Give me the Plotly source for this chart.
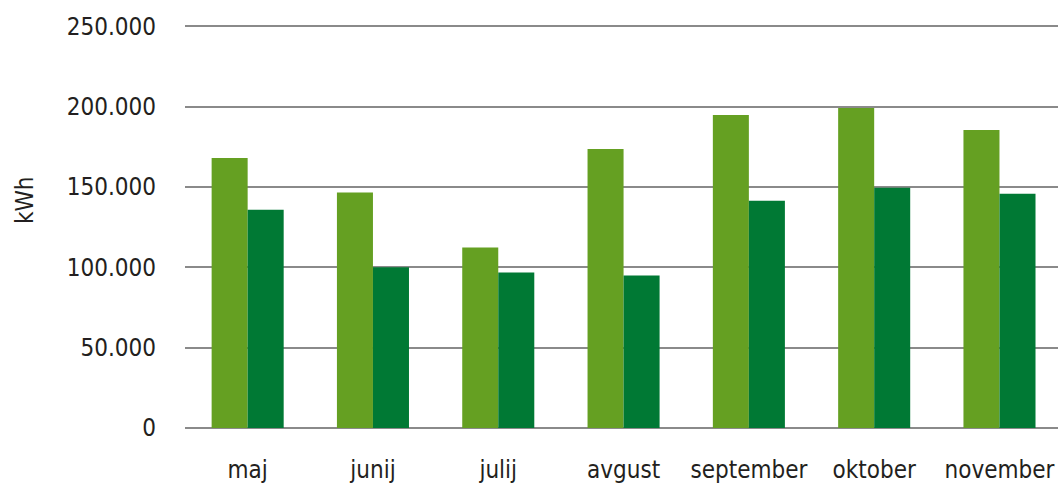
import plotly.graph_objects as go

months = ["maj", "junij", "julij", "avgust", "september", "oktober", "november"]
series_a = [168000, 146500, 112300, 173700, 194800, 199100, 185500]
series_b = [135900, 100000, 96800, 94900, 141400, 149500, 145800]
y_ticks = [0, 50000, 100000, 150000, 200000, 250000]

FONT = "DejaVu Sans Condensed, Liberation Sans Narrow, sans-serif"
TXT = "#231f20"
FS = 24

fig = go.Figure()
fig.add_trace(go.Bar(x=months, y=series_a, marker=dict(color="#65a022", line=dict(width=0)), showlegend=False))
fig.add_trace(go.Bar(x=months, y=series_b, marker=dict(color="#007934", line=dict(width=0)), showlegend=False))

fig.update_layout(
    width=1058, height=485,
    margin=dict(l=185, r=0, t=25, b=57),
    paper_bgcolor="white", plot_bgcolor="white",
    barmode="group", bargap=0.425, bargroupgap=0,
    separators=",.",
    font=dict(family=FONT, color=TXT, size=FS),
    xaxis=dict(showgrid=False, showline=False, zeroline=False,
               range=[-0.5, 6.467],
               ticks="outside", ticklen=0, ticklabelstandoff=20,
               tickfont=dict(family=FONT, size=FS, color=TXT)),
    yaxis=dict(range=[0, 250800], tickvals=y_ticks, tickformat=",d",
               showgrid=True, gridcolor="#8a8a8a", gridwidth=2,
               zeroline=True, zerolinecolor="#8a8a8a", zerolinewidth=2,
               showline=False, ticks="", ticklabelstandoff=28,
               tickfont=dict(family=FONT, size=FS, color=TXT)),
    annotations=[dict(text="kWh", x=(25 - 185) / (1058 - 185), y=(428 - 200) / (428 - 25),
                      xref="paper", yref="paper", xanchor="center", yanchor="middle",
                      showarrow=False, textangle=-90,
                      font=dict(family=FONT, size=FS, color=TXT))],
)

fig.write_html("out.html", config={"displayModeBar": False},
               post_script="document.body.style.margin='0';")
